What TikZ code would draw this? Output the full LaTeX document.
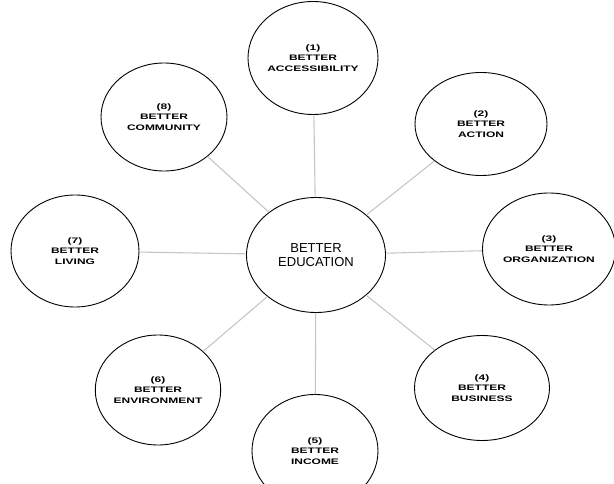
\documentclass[tikz,border=0pt]{standalone}
\usepackage{fontspec}
\usepackage{tikz}
\usetikzlibrary{shapes.geometric}
\newfontfamily\hubfont{Liberation Sans}
\newfontfamily\spokefont[FakeStretch=1.5]{Liberation Sans}
\tikzset{
	hub/.style   = {draw, ellipse, line width = 0.9pt, minimum width = 139pt,
		minimum height = 115pt, align = center, inner sep = 0pt,
		font = \hubfont\fontsize{13}{14}\selectfont},
	spoke/.style = {draw, ellipse, line width = 0.9pt, minimum width = 128pt,
		minimum height = 110pt, align = center, inner sep = 0pt,
		font = \spokefont\bfseries\fontsize{8}{10.5}\selectfont},
	link/.style  = {draw = gray!45, line width = 1.1pt}
}
\newcommand{\goal}[2]{(#1)\\BETTER\\#2}
\begin{document}
\begin{tikzpicture}[x = 1pt, y = -1pt]
		\clip (0,0) rectangle (614,484);
		\draw
		% centre and the eight goals round it
		node at (316,255)[hub] (edu) {BETTER\\EDUCATION}
		node at (313,58)[spoke, minimum width = 130pt, minimum height = 113pt] (acc) {\goal{1}{ACCESSIBILITY}}
		node at (481,124)[spoke, minimum width = 132pt, minimum height = 103pt] (act) {\goal{2}{ACTION}}
		node at (549,249)[spoke, minimum width = 133pt, minimum height = 112pt] (org) {\goal{3}{ORGANIZATION}}
		node at (482,388)[spoke, minimum width = 135pt, minimum height = 105pt] (bus) {\goal{4}{BUSINESS}}
		node at (315,451)[spoke, minimum width = 126pt, minimum height = 113pt] (inc) {\goal{5}{INCOME}}
		node at (158,390)[spoke, minimum width = 125pt] (env) {\goal{6}{ENVIRONMENT}}
		node at (75,251)[spoke, minimum height = 112pt] (liv) {\goal{7}{LIVING}}
		node at (164,117)[spoke, minimum width = 126pt, minimum height = 108pt] (com) {\goal{8}{COMMUNITY}};
		
		\draw[link] (edu) -- (acc);
		\draw[link] (edu) -- (act);
		\draw[link] (edu) -- (org);
		\draw[link] (edu) -- (bus);
		\draw[link] (edu) -- (inc);
		\draw[link] (edu) -- (env);
		\draw[link] (edu) -- (liv);
		\draw[link] (edu) -- (com);
		
		\end{tikzpicture}
\end{document}
